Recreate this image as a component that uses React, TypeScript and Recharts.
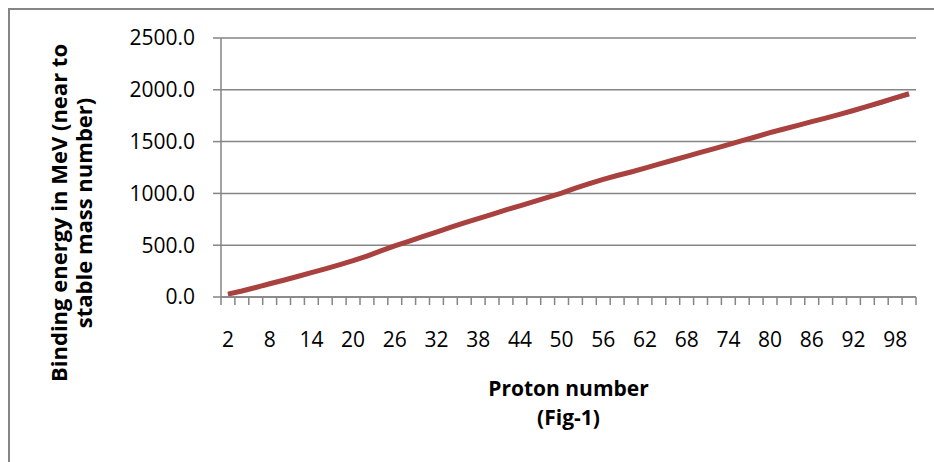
import { CartesianGrid, Label, Line, LineChart, XAxis, YAxis } from "recharts";

// proton number Z (even values only) and binding energy in MeV
const protonNumbers = [
  2, 4, 6, 8, 10, 12, 14, 16, 18, 20, 22, 24, 26, 28, 30, 32, 34, 36, 38, 40, 42, 44, 46, 48, 50,
  52, 54, 56, 58, 60, 62, 64, 66, 68, 70, 72, 74, 76, 78, 80, 82, 84, 86, 88, 90, 92, 94, 96, 98, 100,
];
const energyBlue = [
  26, 56, 90, 125, 160, 196, 233, 270, 308, 347, 390, 438, 486, 530, 575, 620, 666, 710, 752, 794, 835, 876, 916, 957, 997,
  1042, 1086, 1128, 1166, 1202, 1238, 1276, 1314, 1351, 1390, 1427, 1464, 1503, 1540, 1578, 1614, 1648, 1684, 1718, 1754, 1790, 1828, 1868, 1908, 1946,
];
const energyRed = [
  28, 58, 92, 128, 162, 198, 236, 272, 310, 350, 395, 445, 493, 537, 582, 626, 671, 715, 757, 798, 840, 880, 920, 961, 1002,
  1050, 1094, 1136, 1173, 1207, 1244, 1282, 1320, 1357, 1396, 1433, 1470, 1510, 1547, 1586, 1622, 1656, 1692, 1727, 1763, 1800, 1840, 1880, 1922, 1962,
];
const xLabels = [2, 8, 14, 20, 26, 32, 38, 44, 50, 56, 62, 68, 74, 80, 86, 92, 98];
const yTicks = [0, 500, 1000, 1500, 2000, 2500];

const data = protonNumbers.map((z, i) => ({ z, blue: energyBlue[i], red: energyRed[i] }));
// tick marks sit between the categories, like Excel's category axis
const boundaries = protonNumbers.map((z) => z - 1).concat(protonNumbers[protonNumbers.length - 1] + 1);

const font = "'Open Sans', sans-serif";
const gray = "#858585";

function XTick({ x, y, payload }: any) {
  const z = payload.value + 1;
  if (!xLabels.includes(z)) return <g />;
  return (
    <text x={x + 7} y={y} dy="0.71em" textAnchor="middle" fill="#000" fontFamily={font} fontSize={21}>
      {z}
    </text>
  );
}

function XTitle({ viewBox }: any) {
  const cx = viewBox.x + viewBox.width / 2;
  return (
    <text textAnchor="middle" fill="#000" fontFamily={font} fontSize={21} fontWeight="bold">
      <tspan x={cx} y={viewBox.y + 99}>Proton number</tspan>
      <tspan x={cx} y={viewBox.y + 128}>(Fig-1)</tspan>
    </text>
  );
}

function YTitle() {
  const cy = 203;
  return (
    <g fill="#000" fontFamily={font} fontSize={22} fontWeight="bold">
      <text x={57} y={cy} textAnchor="middle" transform={`rotate(-90, 57, ${cy})`}>
        Binding energy in MeV (near to
      </text>
      <text x={82} y={cy} textAnchor="middle" transform={`rotate(-90, 82, ${cy})`}>
        stable mass number)
      </text>
    </g>
  );
}

export default function App() {
  return (
    <div
      style={{
        position: "fixed",
        top: 8,
        left: 8,
        width: 926,
        height: 454,
        borderTop: `2px solid ${gray}`,
        borderLeft: `2px solid ${gray}`,
        background: "#fff",
      }}
    >
      <LineChart width={924} height={452} data={data} margin={{ top: 28, right: 18, left: 0, bottom: 0 }}>
        <CartesianGrid stroke={gray} strokeWidth={1.5} vertical={false} />
        <XAxis
          dataKey="z"
          type="number"
          domain={[1, 101]}
          ticks={boundaries}
          interval={0}
          height={165}
          stroke={gray}
          strokeWidth={1.5}
          tickSize={8}
          tickMargin={27}
          tick={<XTick />}
        >
          <Label content={<XTitle />} />
        </XAxis>
        <YAxis
          domain={[0, 2500]}
          ticks={yTicks}
          width={211}
          stroke={gray}
          strokeWidth={1.5}
          tickSize={8}
          tickMargin={18}
          tickFormatter={(v) => Number(v).toFixed(1)}
          tick={{ fill: "#000", fontFamily: font, fontSize: 21 }}
        >
          <Label content={<YTitle />} />
        </YAxis>
        <Line dataKey="blue" type="linear" stroke="#4a7ebb" strokeWidth={2} dot={false} isAnimationActive={false} />
        <Line dataKey="red" type="linear" stroke="#a9413e" strokeWidth={5} dot={false} isAnimationActive={false} />
      </LineChart>
    </div>
  );
}
